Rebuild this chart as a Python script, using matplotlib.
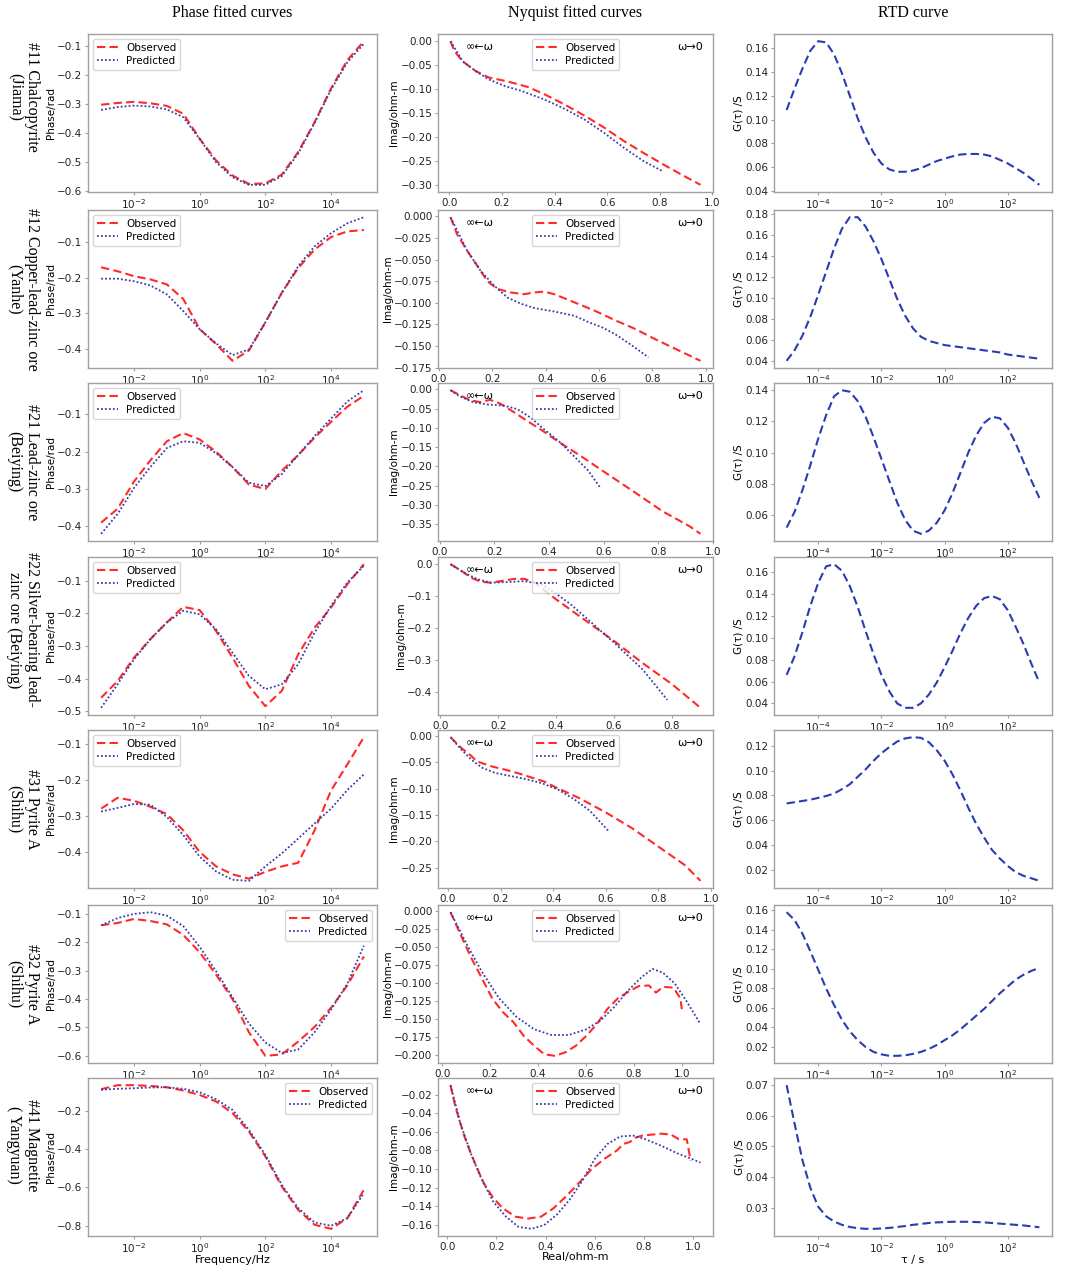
import matplotlib
matplotlib.use('Agg')
import matplotlib.pyplot as plt
from matplotlib.ticker import NullLocator, MultipleLocator

# ---------------- data ----------------
freq_exp = [-3.0, -2.5, -2.0, -1.5, -1.0, -0.5, 0.0, 0.5, 1.0, 1.5, 2.0, 2.5, 3.0, 3.5, 4.0, 4.5, 5.0]
tau_exp = [-5.0, -4.75, -4.5, -4.25, -4.0, -3.75, -3.5, -3.25, -3.0, -2.75, -2.5, -2.25, -2.0, -1.75,
           -1.5, -1.25, -1.0, -0.75, -0.5, -0.25, 0.0, 0.25, 0.5, 0.75, 1.0, 1.25, 1.5, 1.75, 2.0,
           2.25, 2.5, 2.75, 3.0]

row_labels = ["#11 Chalcopyrite\n(Jiama)",
              "#12 Copper-lead-zinc ore\n(Yanhe)",
              "#21 Lead-zinc ore\n(Beiying)",
              "#22 Silver-bearing lead-\nzinc ore (Beiying)",
              "#31 Pyrite A\n(Shihu)",
              "#32 Pyrite A\n(Shihu)",
              "#41 Magnetite\n( Yangyuan)"]
col_titles = ["Phase fitted curves", "Nyquist fitted curves", "RTD curve"]

# Phase (rad) vs log10 frequency
phase_obs_11 = [-0.302, -0.296, -0.292, -0.297, -0.306, -0.333, -0.419, -0.494, -0.546, -0.575, -0.573, -0.543, -0.465, -0.362, -0.246, -0.148, -0.083]
phase_pred_11 = [-0.320, -0.310, -0.305, -0.308, -0.318, -0.345, -0.420, -0.500, -0.552, -0.578, -0.578, -0.548, -0.470, -0.365, -0.250, -0.155, -0.092]
phase_obs_12 = [-0.171, -0.182, -0.196, -0.205, -0.219, -0.260, -0.345, -0.387, -0.434, -0.405, -0.326, -0.243, -0.173, -0.121, -0.086, -0.070, -0.066]
phase_pred_12 = [-0.203, -0.203, -0.210, -0.222, -0.247, -0.294, -0.345, -0.385, -0.418, -0.402, -0.326, -0.243, -0.168, -0.112, -0.075, -0.047, -0.030]
phase_obs_21 = [-0.390, -0.353, -0.280, -0.223, -0.172, -0.150, -0.167, -0.200, -0.241, -0.288, -0.300, -0.251, -0.209, -0.162, -0.120, -0.079, -0.050]
phase_pred_21 = [-0.420, -0.367, -0.297, -0.241, -0.190, -0.172, -0.176, -0.204, -0.241, -0.283, -0.292, -0.260, -0.209, -0.158, -0.111, -0.065, -0.035]
phase_obs_22 = [-0.459, -0.408, -0.336, -0.279, -0.228, -0.180, -0.190, -0.254, -0.336, -0.423, -0.485, -0.438, -0.326, -0.244, -0.182, -0.110, -0.049]
phase_pred_22 = [-0.490, -0.418, -0.341, -0.279, -0.228, -0.192, -0.203, -0.249, -0.321, -0.392, -0.433, -0.418, -0.356, -0.259, -0.177, -0.105, -0.054]
phase_obs_31 = [-0.280, -0.250, -0.258, -0.275, -0.295, -0.340, -0.400, -0.440, -0.462, -0.474, -0.455, -0.440, -0.430, -0.340, -0.230, -0.157, -0.082]
phase_pred_31 = [-0.288, -0.278, -0.267, -0.269, -0.303, -0.353, -0.413, -0.454, -0.477, -0.480, -0.440, -0.404, -0.363, -0.321, -0.280, -0.228, -0.185]
phase_obs_32 = [-0.140, -0.132, -0.118, -0.125, -0.137, -0.174, -0.235, -0.314, -0.400, -0.517, -0.600, -0.595, -0.550, -0.498, -0.431, -0.351, -0.250]
phase_pred_32 = [-0.140, -0.115, -0.100, -0.094, -0.106, -0.143, -0.216, -0.302, -0.394, -0.486, -0.553, -0.590, -0.578, -0.517, -0.437, -0.345, -0.212]
phase_obs_41 = [-0.087, -0.066, -0.066, -0.070, -0.077, -0.094, -0.117, -0.151, -0.212, -0.308, -0.438, -0.595, -0.717, -0.795, -0.816, -0.760, -0.612]
phase_pred_41 = [-0.090, -0.085, -0.082, -0.078, -0.077, -0.085, -0.103, -0.139, -0.195, -0.299, -0.430, -0.586, -0.708, -0.783, -0.800, -0.760, -0.630]

# Nyquist: real / imag (ohm-m)
nyq_obs_re_11 = [0.004, 0.019, 0.05, 0.10, 0.15, 0.212, 0.262, 0.30, 0.362, 0.437, 0.512, 0.587, 0.662, 0.737, 0.812, 0.887, 0.955]
nyq_obs_im_11 = [0.0, -0.021, -0.042, -0.0625, -0.076, -0.083, -0.090, -0.096, -0.111, -0.132, -0.155, -0.180, -0.208, -0.233, -0.257, -0.280, -0.300]
nyq_pred_re_11 = [0.004, 0.05, 0.10, 0.15, 0.212, 0.275, 0.362, 0.437, 0.512, 0.587, 0.662, 0.737, 0.812]
nyq_pred_im_11 = [0.0, -0.042, -0.0625, -0.080, -0.094, -0.104, -0.122, -0.141, -0.163, -0.191, -0.222, -0.250, -0.272]

nyq_obs_re_12 = [0.043, 0.068, 0.106, 0.143, 0.181, 0.219, 0.269, 0.319, 0.357, 0.395, 0.432, 0.508, 0.583, 0.659, 0.734, 0.810, 0.885, 0.980]
nyq_obs_im_12 = [-0.001, -0.021, -0.040, -0.057, -0.075, -0.084, -0.088, -0.090, -0.088, -0.087, -0.090, -0.0995, -0.109, -0.120, -0.130, -0.142, -0.153, -0.167]
nyq_pred_re_12 = [0.043, 0.106, 0.156, 0.206, 0.257, 0.307, 0.357, 0.432, 0.508, 0.558, 0.609, 0.659, 0.722, 0.785]
nyq_pred_im_12 = [-0.001, -0.040, -0.063, -0.080, -0.094, -0.101, -0.106, -0.110, -0.115, -0.122, -0.128, -0.136, -0.149, -0.163]

nyq_obs_re_21 = [0.040, 0.074, 0.111, 0.148, 0.185, 0.222, 0.272, 0.321, 0.370, 0.444, 0.519, 0.617, 0.716, 0.815, 0.914, 0.955]
nyq_obs_im_21 = [-0.002, -0.015, -0.028, -0.033, -0.027, -0.037, -0.059, -0.082, -0.104, -0.140, -0.174, -0.221, -0.268, -0.316, -0.355, -0.375]
nyq_pred_re_21 = [0.040, 0.074, 0.123, 0.173, 0.235, 0.284, 0.333, 0.383, 0.444, 0.494, 0.543, 0.590]
nyq_pred_im_21 = [-0.002, -0.018, -0.033, -0.039, -0.042, -0.051, -0.073, -0.104, -0.139, -0.175, -0.210, -0.257]

nyq_obs_re_22 = [0.035, 0.070, 0.105, 0.140, 0.174, 0.209, 0.256, 0.291, 0.326, 0.40, 0.50, 0.60, 0.70, 0.80, 0.90]
nyq_obs_im_22 = [0.0, -0.019, -0.042, -0.055, -0.058, -0.053, -0.046, -0.046, -0.058, -0.110, -0.175, -0.240, -0.310, -0.375, -0.450]
nyq_pred_re_22 = [0.035, 0.081, 0.128, 0.174, 0.233, 0.291, 0.349, 0.395, 0.45, 0.50, 0.60, 0.70, 0.785]
nyq_pred_im_22 = [0.0, -0.026, -0.047, -0.058, -0.056, -0.053, -0.063, -0.089, -0.125, -0.165, -0.245, -0.330, -0.425]

nyq_obs_re_31 = [0.01, 0.05, 0.09, 0.11, 0.17, 0.22, 0.27, 0.32, 0.37, 0.40, 0.50, 0.60, 0.70, 0.80, 0.90, 0.96]
nyq_obs_im_31 = [-0.002, -0.022, -0.038, -0.048, -0.058, -0.064, -0.071, -0.079, -0.087, -0.095, -0.118, -0.145, -0.175, -0.210, -0.245, -0.275]
nyq_pred_re_31 = [0.01, 0.05, 0.09, 0.13, 0.18, 0.24, 0.30, 0.36, 0.42, 0.48, 0.54, 0.61]
nyq_pred_im_31 = [-0.002, -0.025, -0.045, -0.060, -0.070, -0.076, -0.082, -0.090, -0.102, -0.120, -0.142, -0.180]

nyq_obs_re_32 = [0.035, 0.078, 0.122, 0.166, 0.209, 0.253, 0.297, 0.340, 0.384, 0.427, 0.471, 0.515, 0.558, 0.602, 0.645, 0.689, 0.733, 0.776, 0.820, 0.863, 0.892, 0.922, 0.965, 0.994, 1.000]
nyq_obs_im_32 = [-0.001, -0.033, -0.065, -0.093, -0.121, -0.140, -0.154, -0.173, -0.187, -0.199, -0.201, -0.196, -0.187, -0.173, -0.157, -0.136, -0.121, -0.112, -0.104, -0.103, -0.113, -0.105, -0.106, -0.121, -0.136]
nyq_pred_re_32 = [0.035, 0.108, 0.166, 0.238, 0.311, 0.384, 0.456, 0.529, 0.602, 0.660, 0.718, 0.776, 0.834, 0.878, 0.92, 0.97, 1.02, 1.078]
nyq_pred_im_32 = [-0.001, -0.049, -0.084, -0.121, -0.147, -0.164, -0.172, -0.172, -0.164, -0.152, -0.133, -0.110, -0.091, -0.080, -0.085, -0.100, -0.125, -0.157]

nyq_obs_re_41 = [0.013, 0.032, 0.052, 0.071, 0.097, 0.123, 0.148, 0.187, 0.226, 0.277, 0.329, 0.381, 0.432, 0.484, 0.535, 0.587, 0.639, 0.690, 0.716, 0.742, 0.768, 0.794, 0.832, 0.871, 0.910, 0.942, 0.974, 0.990]
nyq_obs_im_41 = [-0.010, -0.032, -0.050, -0.066, -0.084, -0.100, -0.115, -0.131, -0.142, -0.151, -0.153, -0.151, -0.142, -0.129, -0.115, -0.100, -0.089, -0.080, -0.073, -0.071, -0.066, -0.064, -0.063, -0.062, -0.063, -0.068, -0.068, -0.091]
nyq_pred_re_41 = [0.013, 0.052, 0.097, 0.135, 0.187, 0.239, 0.290, 0.342, 0.394, 0.445, 0.497, 0.548, 0.600, 0.652, 0.703, 0.755, 0.806, 0.871, 0.935, 0.994, 1.03]
nyq_pred_im_41 = [-0.010, -0.050, -0.084, -0.108, -0.135, -0.151, -0.162, -0.164, -0.160, -0.149, -0.133, -0.113, -0.089, -0.073, -0.065, -0.064, -0.068, -0.075, -0.083, -0.089, -0.093]

# RTD G(tau) vs log10 tau
rtd_11 = [0.108, 0.126, 0.143, 0.158, 0.166, 0.165, 0.155, 0.139, 0.120, 0.101, 0.085, 0.072, 0.063, 0.058,
          0.056, 0.056, 0.057, 0.059, 0.062, 0.065, 0.067, 0.069, 0.0705, 0.071, 0.071, 0.0705, 0.069, 0.066,
          0.063, 0.059, 0.055, 0.050, 0.045]
rtd_12 = [0.040, 0.050, 0.064, 0.082, 0.103, 0.125, 0.147, 0.166, 0.177, 0.177, 0.168, 0.154, 0.137, 0.118,
          0.099, 0.083, 0.071, 0.063, 0.059, 0.057, 0.055, 0.054, 0.053, 0.052, 0.051, 0.050, 0.049, 0.048,
          0.046, 0.045, 0.044, 0.043, 0.042]
rtd_21 = [0.052, 0.062, 0.076, 0.092, 0.109, 0.124, 0.136, 0.140, 0.139, 0.133, 0.123, 0.110, 0.096, 0.082,
          0.068, 0.057, 0.050, 0.048, 0.050, 0.055, 0.063, 0.074, 0.087, 0.100, 0.111, 0.119, 0.123, 0.122,
          0.116, 0.106, 0.094, 0.082, 0.071]
rtd_22 = [0.066, 0.083, 0.105, 0.129, 0.150, 0.165, 0.167, 0.161, 0.147, 0.128, 0.106, 0.085, 0.066, 0.051,
          0.040, 0.036, 0.036, 0.040, 0.048, 0.059, 0.073, 0.088, 0.104, 0.118, 0.129, 0.136, 0.138, 0.135,
          0.125, 0.110, 0.094, 0.076, 0.059]
rtd_31 = [0.0735, 0.0745, 0.0755, 0.0765, 0.078, 0.0795, 0.0815, 0.085, 0.089, 0.095, 0.101, 0.108, 0.114,
          0.119, 0.1235, 0.126, 0.127, 0.1265, 0.123, 0.1165, 0.108, 0.097, 0.084, 0.070, 0.057, 0.046, 0.036,
          0.029, 0.023, 0.018, 0.015, 0.013, 0.011]
rtd_32 = [0.158, 0.150, 0.136, 0.118, 0.099, 0.080, 0.063, 0.048, 0.036, 0.027, 0.020, 0.015, 0.0125, 0.011,
          0.011, 0.0115, 0.013, 0.015, 0.018, 0.022, 0.027, 0.032, 0.038, 0.045, 0.052, 0.059, 0.067, 0.075,
          0.082, 0.089, 0.094, 0.098, 0.101]
rtd_41 = [0.0700, 0.0575, 0.0455, 0.0365, 0.0303, 0.0272, 0.0255, 0.0244, 0.0237, 0.0233, 0.0231, 0.0231,
          0.0232, 0.0234, 0.0237, 0.0240, 0.0244, 0.0247, 0.0250, 0.0252, 0.0253, 0.0254, 0.0254, 0.0254,
          0.0253, 0.0252, 0.0250, 0.0248, 0.0246, 0.0244, 0.0242, 0.0239, 0.0236]

phase_obs = [phase_obs_11, phase_obs_12, phase_obs_21, phase_obs_22, phase_obs_31, phase_obs_32, phase_obs_41]
phase_pred = [phase_pred_11, phase_pred_12, phase_pred_21, phase_pred_22, phase_pred_31, phase_pred_32, phase_pred_41]
nyq_obs = [(nyq_obs_re_11, nyq_obs_im_11), (nyq_obs_re_12, nyq_obs_im_12), (nyq_obs_re_21, nyq_obs_im_21),
           (nyq_obs_re_22, nyq_obs_im_22), (nyq_obs_re_31, nyq_obs_im_31), (nyq_obs_re_32, nyq_obs_im_32),
           (nyq_obs_re_41, nyq_obs_im_41)]
nyq_pred = [(nyq_pred_re_11, nyq_pred_im_11), (nyq_pred_re_12, nyq_pred_im_12), (nyq_pred_re_21, nyq_pred_im_21),
            (nyq_pred_re_22, nyq_pred_im_22), (nyq_pred_re_31, nyq_pred_im_31), (nyq_pred_re_32, nyq_pred_im_32),
            (nyq_pred_re_41, nyq_pred_im_41)]
rtd = [rtd_11, rtd_12, rtd_21, rtd_22, rtd_31, rtd_32, rtd_41]
phase_legend_loc = ['upper left'] * 5 + ['upper right'] * 2

# tick spacing per row (style)
phase_ystep = [0.1, 0.1, 0.1, 0.1, 0.1, 0.1, 0.2]
nyq_ystep = [0.05, 0.025, 0.05, 0.1, 0.05, 0.025, 0.02]
rtd_ystep = [0.02, 0.02, 0.02, 0.02, 0.02, 0.02, 0.01]
label_shift = [-16, 0, 0, -6, 0, 0, -12]

freq = [10 ** e for e in freq_exp]
tau = [10 ** e for e in tau_exp]

# ---------------- figure ----------------
W, H = 1065, 1266
fig = plt.figure(figsize=(W / 100, H / 100), dpi=100)
plt.rcParams['font.family'] = ['DejaVu Sans']

col_lr = [(88, 377), (438, 713), (774, 1052)]
row_tops = [34, 210, 383, 557, 730, 905, 1078]
row_h = 158

RED = '#ff2a2a'
BLUE = '#3a3aaa'
RTD_BLUE = '#2b3bb0'
SPINE = '#a0a0a0'
TFS = 7.5
SERIF = ['Liberation Serif', 'DejaVu Serif']


def make_ax(r, c):
    l, rr = col_lr[c]
    top = row_tops[r]
    ax = fig.add_axes([l / W, 1 - (top + row_h) / H, (rr - l) / W, row_h / H])
    ax.set_facecolor('none')
    return ax


def style(ax):
    for s in ax.spines.values():
        s.set_color(SPINE)
        s.set_linewidth(1.0)
    ax.tick_params(labelsize=TFS, labelcolor='#222222', length=2.5, width=0.8, pad=1.5, color=SPINE)


for c, t in enumerate(col_titles):
    l, rr = col_lr[c]
    fig.text((l + rr) / 2 / W, 1 - 13 / H, t, ha='center', va='center', fontsize=11.5, family=SERIF)

for r in range(7):
    top = row_tops[r]
    fig.text(23 / W, 1 - (top + row_h / 2 + label_shift[r]) / H, row_labels[r], rotation=270,
             ha='center', va='center', fontsize=11.5, family=SERIF, linespacing=1.1,
             multialignment='center')

    # Phase
    ax = make_ax(r, 0)
    ax.plot(freq, phase_obs[r], color=RED, ls=(0, (4, 2)), lw=1.5, label='Observed')
    ax.plot(freq, phase_pred[r], color=BLUE, ls=(0, (1, 1.2)), lw=1.3, label='Predicted')
    ax.set_xscale('log')
    ax.set_xticks([1e-2, 1, 1e2, 1e4])
    ax.xaxis.set_minor_locator(NullLocator())
    ax.yaxis.set_major_locator(MultipleLocator(phase_ystep[r]))
    ax.set_ylabel('Phase/rad', fontsize=TFS, labelpad=1)
    if r == 6:
        ax.set_xlabel('Frequency/Hz', fontsize=TFS + 0.5, labelpad=0)
    ax.legend(loc=phase_legend_loc[r], fontsize=TFS, handlelength=2.0, borderpad=0.35,
              labelspacing=0.3, edgecolor='#cccccc')
    style(ax)

    # Nyquist
    ax = make_ax(r, 1)
    ax.plot(nyq_obs[r][0], nyq_obs[r][1], color=RED, ls=(0, (4, 2)), lw=1.5, label='Observed')
    ax.plot(nyq_pred[r][0], nyq_pred[r][1], color=BLUE, ls=(0, (1, 1.2)), lw=1.3, label='Predicted')
    ax.xaxis.set_major_locator(MultipleLocator(0.2))
    ax.yaxis.set_major_locator(MultipleLocator(nyq_ystep[r]))
    ax.set_ylabel('Imag/ohm-m', fontsize=TFS, labelpad=1)
    if r == 6:
        ax.set_xlabel('Real/ohm-m', fontsize=TFS + 0.5, labelpad=0)
    ax.legend(loc='upper center', fontsize=TFS, handlelength=2.0, borderpad=0.35,
              labelspacing=0.3, edgecolor='#cccccc')
    ax.text(0.1, 0.92, '∞←ω', transform=ax.transAxes, fontsize=TFS + 0.5, ha='left', va='center')
    ax.text(0.87, 0.92, 'ω→0', transform=ax.transAxes, fontsize=TFS + 0.5, ha='left', va='center')
    style(ax)

    # RTD
    ax = make_ax(r, 2)
    ax.plot(tau, rtd[r], color=RTD_BLUE, ls=(0, (4, 2)), lw=1.5)
    ax.set_xscale('log')
    ax.set_xticks([1e-4, 1e-2, 1, 1e2])
    ax.xaxis.set_minor_locator(NullLocator())
    ax.yaxis.set_major_locator(MultipleLocator(rtd_ystep[r]))
    ax.set_ylabel('G(τ) /S', fontsize=TFS, labelpad=1)
    if r == 6:
        ax.set_xlabel('τ / s', fontsize=TFS + 0.5, labelpad=0)
    style(ax)

fig.savefig('out.png', dpi=100)
